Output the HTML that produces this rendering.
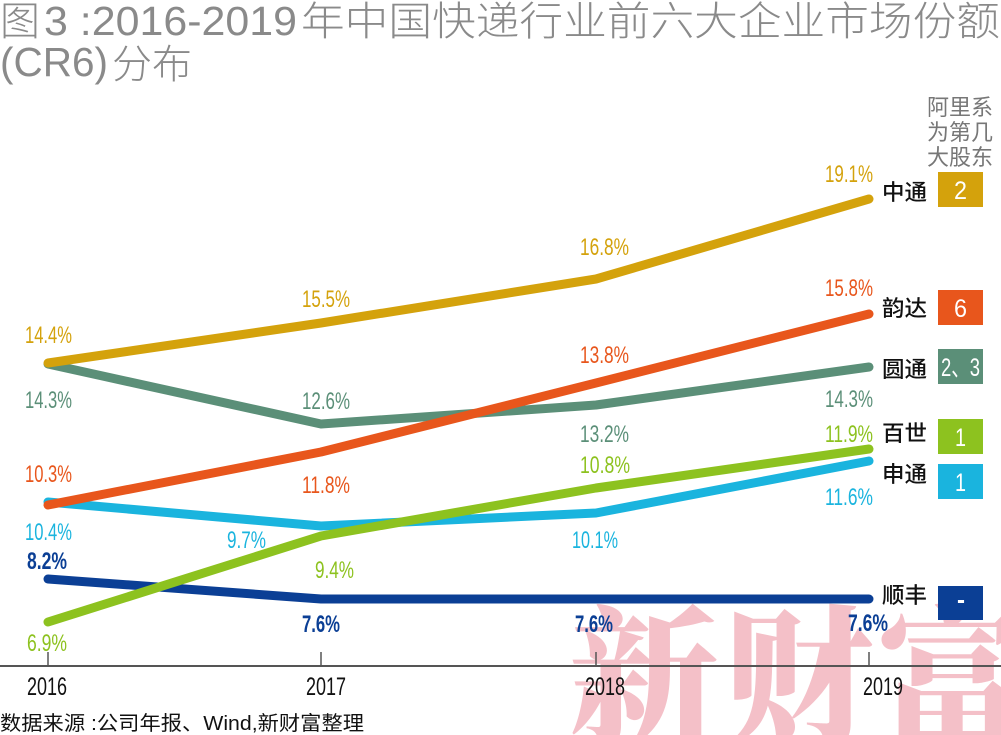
<!DOCTYPE html>
<html>
<head>
<meta charset="utf-8">
<style>
  html, body { margin:0; padding:0; background:#ffffff; width:1001px; height:735px; overflow:hidden; }
  svg { display:block; overflow:hidden; }
  .num { font-family: "Liberation Sans", sans-serif; font-size:24px; }
  .cjk { font-family: "Liberation Sans", "Noto Sans CJK SC", sans-serif; }
</style>
</head>
<body>
<svg width="1001" height="735" viewBox="0 0 1001 735" xmlns="http://www.w3.org/2000/svg">
  <defs>
    <clipPath id="frame"><rect x="0" y="0" width="1001" height="735"/></clipPath>
  </defs>
  <rect x="0" y="0" width="1001" height="735" fill="#ffffff"/>

  <g clip-path="url(#frame)">
  <!-- watermark -->
  <text x="569" y="732" font-family="'Noto Serif CJK SC', 'Liberation Serif', serif" font-weight="900" font-size="150" fill="#F4C0C8" letter-spacing="4">新财富</text>

  <!-- title -->
  <g fill="#8a8a8a" font-weight="300">
    <text class="cjk" x="0" y="35" font-size="40" textLength="40" lengthAdjust="spacingAndGlyphs">图</text>
    <text x="44" y="35" font-family="'Liberation Sans', sans-serif" font-size="41" textLength="253" lengthAdjust="spacingAndGlyphs">3 :2016-2019</text>
    <text class="cjk" x="301" y="35" font-size="40" textLength="699" lengthAdjust="spacingAndGlyphs">年中国快递行业前六大企业市场份额</text>
    <text x="0" y="76" font-family="'Liberation Sans', sans-serif" font-size="41" textLength="108" lengthAdjust="spacingAndGlyphs">(CR6)</text>
    <text class="cjk" x="112" y="78" font-size="40" textLength="80" lengthAdjust="spacingAndGlyphs">分布</text>
  </g>

  <!-- axis -->
  <line x1="0" y1="666" x2="1001" y2="666" stroke="#555" stroke-width="2"/>
  <g stroke="#555" stroke-width="1.5">
    <line x1="48" y1="652" x2="48" y2="666"/>
    <line x1="321" y1="652" x2="321" y2="666"/>
    <line x1="596" y1="652" x2="596" y2="666"/>
    <line x1="869" y1="652" x2="869" y2="666"/>
  </g>
  <g fill="#111" font-family="'Liberation Sans', sans-serif" font-size="25">
    <text x="27" y="695" textLength="40" lengthAdjust="spacingAndGlyphs">2016</text>
    <text x="306" y="695" textLength="40" lengthAdjust="spacingAndGlyphs">2017</text>
    <text x="585" y="695" textLength="40" lengthAdjust="spacingAndGlyphs">2018</text>
    <text x="863" y="695" textLength="40" lengthAdjust="spacingAndGlyphs">2019</text>
  </g>

  <!-- source -->
  <text class="cjk" x="0" y="730" font-size="20" fill="#111" textLength="364" lengthAdjust="spacingAndGlyphs">数据来源 :公司年报、Wind,新财富整理</text>

  <!-- series lines -->
  <g fill="none" stroke-width="9" stroke-linecap="round" stroke-linejoin="round">
    <polyline stroke="#0B3F95" points="48,579 321,599 596,599 869,599"/>
    <polyline stroke="#1AB4DE" points="48,502 321,526 596,513 869,461"/>
    <polyline stroke="#5B8F78" points="48,364 321,424 596,405 869,367"/>
    <polyline stroke="#8DC21F" points="48,622 321,536 596,488 869,449"/>
    <polyline stroke="#E8561C" points="48,505 321,452 596,383 869,314"/>
    <polyline stroke="#D4A20C" points="48,363 321,323 596,279 869,199"/>
  </g>

  <!-- data labels -->
  <g class="num">
    <!-- 2016 -->
    <text x="25" y="343" fill="#D4A20C" textLength="47" lengthAdjust="spacingAndGlyphs">14.4%</text>
    <text x="25" y="408" fill="#5B8F78" textLength="47" lengthAdjust="spacingAndGlyphs">14.3%</text>
    <text x="25" y="482" fill="#E8561C" textLength="47" lengthAdjust="spacingAndGlyphs">10.3%</text>
    <text x="25" y="540" fill="#1AB4DE" textLength="47" lengthAdjust="spacingAndGlyphs">10.4%</text>
    <text x="27" y="569" fill="#0B3F95" font-weight="bold" textLength="40" lengthAdjust="spacingAndGlyphs">8.2%</text>
    <text x="27" y="651" fill="#8DC21F" textLength="40" lengthAdjust="spacingAndGlyphs">6.9%</text>
    <!-- 2017 -->
    <text x="302" y="307" fill="#D4A20C" textLength="48" lengthAdjust="spacingAndGlyphs">15.5%</text>
    <text x="302" y="409" fill="#5B8F78" textLength="48" lengthAdjust="spacingAndGlyphs">12.6%</text>
    <text x="302" y="493" fill="#E8561C" textLength="48" lengthAdjust="spacingAndGlyphs">11.8%</text>
    <text x="227" y="548" fill="#1AB4DE" textLength="39" lengthAdjust="spacingAndGlyphs">9.7%</text>
    <text x="315" y="578" fill="#8DC21F" textLength="39" lengthAdjust="spacingAndGlyphs">9.4%</text>
    <text x="302" y="632" fill="#0B3F95" font-weight="bold" textLength="38" lengthAdjust="spacingAndGlyphs">7.6%</text>
    <!-- 2018 -->
    <text x="580" y="255" fill="#D4A20C" textLength="49" lengthAdjust="spacingAndGlyphs">16.8%</text>
    <text x="580" y="363" fill="#E8561C" textLength="49" lengthAdjust="spacingAndGlyphs">13.8%</text>
    <text x="580" y="442" fill="#5B8F78" textLength="49" lengthAdjust="spacingAndGlyphs">13.2%</text>
    <text x="580" y="473" fill="#8DC21F" textLength="50" lengthAdjust="spacingAndGlyphs">10.8%</text>
    <text x="572" y="548" fill="#1AB4DE" textLength="46" lengthAdjust="spacingAndGlyphs">10.1%</text>
    <text x="575" y="632" fill="#0B3F95" font-weight="bold" textLength="38" lengthAdjust="spacingAndGlyphs">7.6%</text>
    <!-- 2019 -->
    <text x="825" y="182" fill="#D4A20C" textLength="48" lengthAdjust="spacingAndGlyphs">19.1%</text>
    <text x="825" y="296" fill="#E8561C" textLength="48" lengthAdjust="spacingAndGlyphs">15.8%</text>
    <text x="825" y="407" fill="#5B8F78" textLength="48" lengthAdjust="spacingAndGlyphs">14.3%</text>
    <text x="825" y="442" fill="#8DC21F" textLength="48" lengthAdjust="spacingAndGlyphs">11.9%</text>
    <text x="825" y="505" fill="#1AB4DE" textLength="48" lengthAdjust="spacingAndGlyphs">11.6%</text>
    <text x="848" y="631" fill="#0B3F95" font-weight="bold" textLength="40" lengthAdjust="spacingAndGlyphs">7.6%</text>
  </g>

  <!-- legend header -->
  <g class="cjk" fill="#777" font-size="22">
    <text x="927" y="115" textLength="66" lengthAdjust="spacingAndGlyphs">阿里系</text>
    <text x="927" y="140" textLength="66" lengthAdjust="spacingAndGlyphs">为第几</text>
    <text x="927" y="165" textLength="66" lengthAdjust="spacingAndGlyphs">大股东</text>
  </g>

  <!-- legend names -->
  <g class="cjk" fill="#111" font-size="22" font-weight="500">
    <text x="882" y="200" textLength="45" lengthAdjust="spacingAndGlyphs">中通</text>
    <text x="882" y="316" textLength="45" lengthAdjust="spacingAndGlyphs">韵达</text>
    <text x="882" y="377" textLength="45" lengthAdjust="spacingAndGlyphs">圆通</text>
    <text x="882" y="441" textLength="45" lengthAdjust="spacingAndGlyphs">百世</text>
    <text x="882" y="482" textLength="45" lengthAdjust="spacingAndGlyphs">申通</text>
    <text x="882" y="603" textLength="45" lengthAdjust="spacingAndGlyphs">顺丰</text>
  </g>

  <!-- legend boxes -->
  <rect x="938" y="172" width="45" height="35" fill="#D4A20C"/>
  <rect x="938" y="290" width="45" height="35" fill="#E8561C"/>
  <rect x="938" y="349" width="45" height="35" fill="#5B8F78"/>
  <rect x="938" y="419" width="45" height="35" fill="#8DC21F"/>
  <rect x="938" y="464" width="45" height="35" fill="#1AB4DE"/>
  <rect x="938" y="586" width="45" height="34" fill="#0B3F95"/>
  <g fill="#ffffff" font-family="'Liberation Sans', 'Noto Sans CJK SC', sans-serif" font-size="25">
    <text x="954" y="199" textLength="13" lengthAdjust="spacingAndGlyphs">2</text>
    <text x="954" y="317" textLength="13" lengthAdjust="spacingAndGlyphs">6</text>
    <text x="941" y="376" textLength="39" lengthAdjust="spacingAndGlyphs">2、3</text>
    <text x="955" y="446" textLength="11" lengthAdjust="spacingAndGlyphs">1</text>
    <text x="955" y="491" textLength="11" lengthAdjust="spacingAndGlyphs">1</text>
    <text x="957" y="608" font-weight="bold" textLength="8" lengthAdjust="spacingAndGlyphs">-</text>
  </g>
  </g>
</svg>
</body>
</html>
